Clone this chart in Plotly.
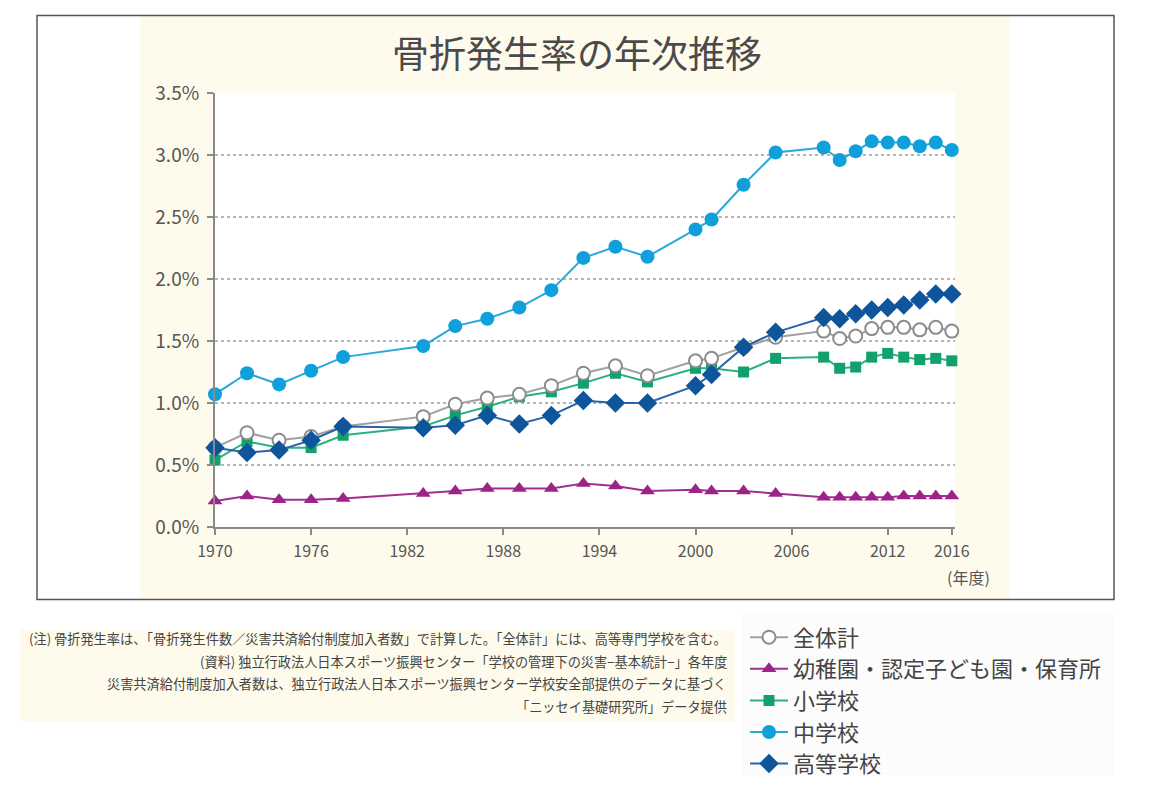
import plotly.graph_objects as go

years = [1970, 1972, 1974, 1976, 1978, 1983, 1985, 1987, 1989, 1991, 1993, 1995, 1997,
         2000, 2001, 2003, 2005, 2008, 2009, 2010, 2011, 2012, 2013, 2014, 2015, 2016]

total = [0.64, 0.76, 0.70, 0.73, 0.81, 0.89, 0.99, 1.04, 1.07, 1.14, 1.24, 1.30, 1.22,
         1.34, 1.36, 1.45, 1.53, 1.58, 1.52, 1.54, 1.60, 1.61, 1.61, 1.59, 1.61, 1.58]
kinder = [0.21, 0.25, 0.22, 0.22, 0.23, 0.27, 0.29, 0.31, 0.31, 0.31, 0.35, 0.33, 0.29,
          0.30, 0.29, 0.29, 0.27, 0.24, 0.24, 0.24, 0.24, 0.24, 0.25, 0.25, 0.25, 0.25]
elem = [0.54, 0.69, 0.64, 0.64, 0.74, 0.81, 0.90, 0.97, 1.05, 1.09, 1.16, 1.24, 1.17,
        1.28, 1.28, 1.25, 1.36, 1.37, 1.28, 1.29, 1.37, 1.40, 1.37, 1.35, 1.36, 1.34]
junior = [1.07, 1.24, 1.15, 1.26, 1.37, 1.46, 1.62, 1.68, 1.77, 1.91, 2.17, 2.26, 2.18,
          2.40, 2.48, 2.76, 3.02, 3.06, 2.96, 3.03, 3.11, 3.10, 3.10, 3.07, 3.10, 3.04]
high = [0.64, 0.60, 0.62, 0.70, 0.81, 0.80, 0.82, 0.90, 0.83, 0.90, 1.02, 1.00, 1.00,
        1.14, 1.23, 1.45, 1.57, 1.69, 1.68, 1.72, 1.75, 1.77, 1.79, 1.83, 1.88, 1.88]

names = ["全体計", "幼稚園・認定子ども園・保育所", "小学校", "中学校", "高等学校"]
xtick_vals = [1970, 1976, 1982, 1988, 1994, 2000, 2006, 2012, 2016]
ytick_vals = [0.0, 0.5, 1.0, 1.5, 2.0, 2.5, 3.0, 3.5]

title = "骨折発生率の年次推移"
notes = [
    "(注) 骨折発生率は、「骨折発生件数／災害共済給付制度加入者数」で計算した。「全体計」には、高等専門学校を含む。",
    "(資料) 独立行政法人日本スポーツ振興センター「学校の管理下の災害−基本統計−」各年度",
    "災害共済給付制度加入者数は、独立行政法人日本スポーツ振興センター学校安全部提供のデータに基づく",
    "「ニッセイ基礎研究所」データ提供",
]
unit_label = "(年度)"

W, H = 1152, 796
L, R, T, B = 215, 955, 93, 530
FONT = "Noto Sans CJK JP"


def px(xp):
    return (xp - L) / (R - L)


def py(yp):
    return (B - yp) / (B - T)


fig = go.Figure()

# draw order: kinder, elem, total, junior, high (legend order via legendrank)
fig.add_trace(go.Scatter(
    x=years, y=kinder, name=names[1], mode="lines+markers", legendrank=2,
    line=dict(color="#a0308e", width=2),
    marker=dict(symbol="triangle-up", size=13, color="#9c2489"), cliponaxis=False))
fig.add_trace(go.Scatter(
    x=years, y=elem, name=names[2], mode="lines+markers", legendrank=3,
    line=dict(color="#2bb07e", width=2),
    marker=dict(symbol="square", size=11, color="#12a06c"), cliponaxis=False))
fig.add_trace(go.Scatter(
    x=years, y=total, name=names[0], mode="lines+markers", legendrank=1,
    line=dict(color="#a0a0a0", width=2),
    marker=dict(symbol="circle", size=13, color="white",
                line=dict(color="#8c8c8c", width=2)), cliponaxis=False))
fig.add_trace(go.Scatter(
    x=years, y=junior, name=names[3], mode="lines+markers", legendrank=4,
    line=dict(color="#2aa8dc", width=2),
    marker=dict(symbol="circle", size=14, color="#0fa0dc"), cliponaxis=False))
fig.add_trace(go.Scatter(
    x=years, y=high, name=names[4], mode="lines+markers", legendrank=5,
    line=dict(color="#2a64a8", width=2),
    marker=dict(symbol="diamond", size=15, color="#0f559c"), cliponaxis=False))

shapes = [
    # cream chart background
    dict(type="rect", xref="paper", yref="paper", x0=px(140), x1=px(1010), y0=py(603), y1=py(15),
         fillcolor="#fefbec", line=dict(width=0), layer="below"),
    # white plot area
    dict(type="rect", xref="paper", yref="paper", x0=px(215), x1=px(955), y0=py(530), y1=py(93),
         fillcolor="#ffffff", line=dict(width=0), layer="below"),
    # outer frame
    dict(type="rect", xref="paper", yref="paper", x0=px(37), x1=px(1114), y0=py(603), y1=py(15),
         fillcolor="rgba(0,0,0,0)", line=dict(color="#555555", width=1.5), layer="below"),
    # notes background
    dict(type="rect", xref="paper", yref="paper", x0=px(20), x1=px(735), y0=py(726), y1=py(633),
         fillcolor="#fefbec", line=dict(width=0), layer="below"),
    # legend background
    dict(type="rect", xref="paper", yref="paper", x0=px(742), x1=px(1114), y0=py(780), y1=py(618),
         fillcolor="#fcfcfc", line=dict(width=0), layer="below"),
]

annotations = [
    dict(text=title, xref="paper", yref="paper", x=px(577), y=py(52), xanchor="center",
         yanchor="middle", showarrow=False, font=dict(family=FONT, size=37, color="#4a4a4a")),
    dict(text=unit_label, xref="paper", yref="paper", x=px(968), y=py(580), xanchor="center",
         yanchor="middle", showarrow=False, font=dict(family=FONT, size=16, color="#555555")),
]
note_y = [642, 665, 688, 711]
for t, yy in zip(notes, note_y):
    annotations.append(dict(text=t, xref="paper", yref="paper", x=px(729), y=py(yy),
                            xanchor="right", yanchor="middle", showarrow=False,
                            font=dict(family=FONT, size=13.2, color="#444444")))

fig.update_layout(
    width=W, height=H,
    margin=dict(l=L, r=W - R, t=T, b=H - B, pad=0),
    paper_bgcolor="white", plot_bgcolor="rgba(0,0,0,0)",
    font=dict(family=FONT, color="#555555"),
    shapes=shapes, annotations=annotations,
    legend=dict(x=px(745), y=py(620), xanchor="left", yanchor="top",
                font=dict(family=FONT, size=22, color="#444444"),
                bgcolor="rgba(0,0,0,0)", itemwidth=38, tracegroupgap=0,
                traceorder="normal"),
    showlegend=True,
)
fig.update_xaxes(range=[1970, 2016.2], tickvals=xtick_vals, ticktext=[str(v) for v in xtick_vals],
                 showline=True, linecolor="#8a8a8a", linewidth=2, ticks="outside",
                 ticklen=6, tickcolor="#8a8a8a", tickwidth=1.5, showgrid=False, zeroline=False,
                 ticklabelstandoff=3,
                 tickfont=dict(family=FONT, size=16, color="#555555"))
fig.update_yaxes(range=[0, 3.5], tickvals=ytick_vals, ticktext=[f"{v:.1f}%" for v in ytick_vals],
                 showline=True, linecolor="#8a8a8a", linewidth=2, ticks="outside",
                 ticklen=6, tickcolor="#8a8a8a", tickwidth=1.5, showgrid=True,
                 gridcolor="#b4b4b4", griddash="dot", gridwidth=1.5, zeroline=False,
                 ticklabelstandoff=4,
                 tickfont=dict(family=FONT, size=19, color="#555555"))

fig.write_html("out.html", config={"displayModeBar": False},
               post_script="document.body.style.margin='0';")
